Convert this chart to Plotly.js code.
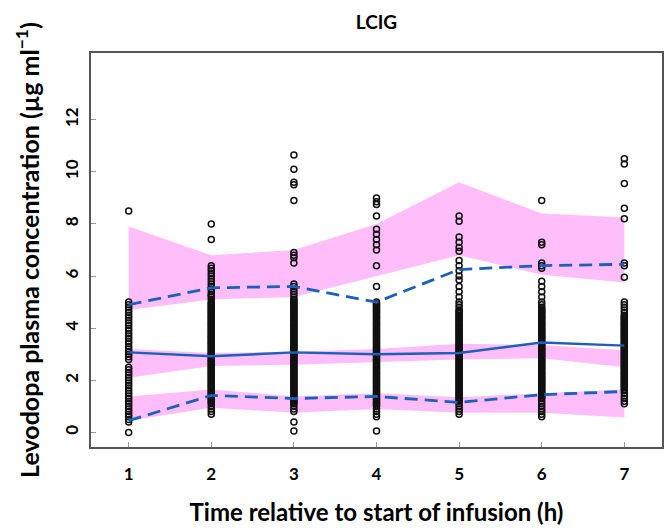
<!DOCTYPE html>
<html>
<head>
<meta charset="utf-8">
<script src="https://cdn.plot.ly/plotly-3.0.1.min.js"></script>
<style>html,body{margin:0;padding:0;background:#fff;}#chart{width:664px;height:528px;}</style>
</head>
<body>
<div id="chart"></div>
<script>
// Time points (h)
var times = [1, 2, 3, 4, 5, 6, 7];
var xTickLabels = ['1', '2', '3', '4', '5', '6', '7'];
var yTickVals = [0, 2, 4, 6, 8, 10, 12];

// Simulated prediction intervals (shaded bands)
var pi95Low  = [4.7, 5.1, 5.2, 6.0, 6.8, 6.05, 5.75];
var pi95High = [7.9, 6.8, 7.0, 8.0, 9.6, 8.4, 8.25];
var pi50Low  = [2.1, 2.55, 2.6, 2.7, 2.8, 2.85, 2.5];
var pi50High = [3.2, 3.05, 3.1, 3.2, 3.4, 3.35, 3.15];
var pi5Low   = [0.45, 0.95, 0.75, 0.9, 0.75, 0.75, 0.57];
var pi5High  = [1.38, 1.65, 1.38, 1.5, 1.35, 1.5, 1.65];

// Observed percentiles (lines)
var obsP95 = [4.9, 5.55, 5.6, 5.0, 6.25, 6.4, 6.45];
var obsP50 = [3.07, 2.92, 3.07, 3.0, 3.05, 3.45, 3.33];
var obsP5  = [0.45, 1.42, 1.3, 1.38, 1.15, 1.45, 1.57];

// Observed concentrations at each time point
var obs1 = [8.5, 5.0, 4.9, 4.8, 4.7, 4.6, 4.5, 4.4, 4.3, 4.2, 4.1, 4.0, 3.9, 3.8, 3.7, 3.6, 3.5, 3.4, 3.3, 3.2, 3.1, 3.0, 2.9, 2.8, 2.5, 2.4, 2.3, 2.2, 2.1, 2.0, 1.9, 1.8, 1.7, 1.6, 1.5, 1.4, 1.3, 1.2, 1.1, 1.0, 0.9, 0.8, 0.7, 0.6, 0.5, 0.4, 0.0];
var obs2 = [8.0, 7.4, 6.4, 6.3, 6.2, 6.1, 6.0, 5.9, 5.8, 5.7, 5.6, 5.5, 5.4, 5.3, 5.2, 5.1, 5.0, 4.9, 4.8, 4.7, 4.6, 4.5, 4.4, 4.3, 4.2, 4.1, 4.0, 3.9, 3.8, 3.7, 3.6, 3.5, 3.4, 3.3, 3.2, 3.1, 3.0, 2.9, 2.8, 2.7, 2.6, 2.5, 2.4, 2.3, 2.2, 2.1, 2.0, 1.9, 1.8, 1.7, 1.6, 1.5, 1.4, 1.3, 1.2, 1.1, 1.0, 0.9, 0.8, 0.7,
            5.25, 4.95, 4.85, 4.75, 4.65, 4.55, 4.45, 4.35, 4.25, 4.15, 4.05, 3.95, 3.85, 3.75, 3.65, 3.55, 3.45, 3.35, 3.25, 3.15, 3.05, 2.95, 2.85, 2.75, 2.65, 2.55, 2.45, 2.35, 2.25, 2.15, 2.05, 1.95, 1.85, 1.75, 1.65, 1.55, 1.45, 1.35, 1.25, 1.15];
var obs3 = [10.65, 10.1, 9.6, 9.5, 8.9, 6.9, 6.8, 6.7, 6.5, 5.7, 5.6, 5.5, 5.4, 5.3, 5.2, 5.1, 5.0, 4.9, 4.8, 4.7, 4.6, 4.5, 4.4, 4.3, 4.2, 4.1, 4.0, 3.9, 3.8, 3.7, 3.6, 3.5, 3.4, 3.3, 3.2, 3.1, 3.0, 2.9, 2.8, 2.7, 2.6, 2.5, 2.4, 2.3, 2.2, 2.1, 2.0, 1.9, 1.8, 1.7, 1.6, 1.5, 1.4, 1.3, 1.2, 1.1, 1.0, 0.9, 0.8, 0.4, 0.05,
            5.05, 4.95, 4.85, 4.75, 4.65, 4.55, 4.45, 4.35, 4.25, 4.15, 4.05, 3.95, 3.85, 3.75, 3.65, 3.55, 3.45, 3.35, 3.25, 3.15, 3.05, 2.95, 2.85, 2.75, 2.65, 2.55, 2.45, 2.35, 2.25, 2.15, 2.05, 1.95, 1.85, 1.75, 1.65, 1.55, 1.45, 1.35, 1.25, 1.15];
var obs4 = [9.0, 8.85, 8.75, 8.3, 7.8, 7.6, 7.4, 7.2, 7.0, 6.4, 5.6, 5.0, 4.9, 4.8, 4.7, 4.6, 4.5, 4.4, 4.3, 4.2, 4.1, 4.0, 3.9, 3.8, 3.7, 3.6, 3.5, 3.4, 3.3, 3.2, 3.1, 3.0, 2.9, 2.8, 2.7, 2.6, 2.5, 2.4, 2.3, 2.2, 2.1, 2.0, 1.9, 1.8, 1.7, 1.6, 1.5, 1.4, 1.3, 1.2, 1.1, 1.0, 0.9, 0.8, 0.7, 0.6, 0.05,
            4.95, 4.85, 4.75, 4.65, 4.55, 4.45, 4.35, 4.25, 4.15, 4.05, 3.95, 3.85, 3.75, 3.65, 3.55, 3.45, 3.35, 3.25, 3.15, 3.05, 2.95, 2.85, 2.75, 2.65, 2.55, 2.45, 2.35, 2.25, 2.15, 2.05, 1.95, 1.85, 1.75, 1.65, 1.55, 1.45, 1.35, 1.25, 1.15, 1.05];
var obs5 = [8.3, 8.1, 7.5, 7.3, 7.1, 6.95, 6.6, 6.4, 6.2, 6.0, 5.85, 5.6, 5.4, 5.2, 5.0, 4.9, 4.8, 4.7, 4.6, 4.5, 4.4, 4.3, 4.2, 4.1, 4.0, 3.9, 3.8, 3.7, 3.6, 3.5, 3.4, 3.3, 3.2, 3.1, 3.0, 2.9, 2.8, 2.7, 2.6, 2.5, 2.4, 2.3, 2.2, 2.1, 2.0, 1.9, 1.8, 1.7, 1.6, 1.5, 1.4, 1.3, 1.2, 1.1, 1.0, 0.9, 0.8, 0.7,
            4.65, 4.55, 4.45, 4.35, 4.25, 4.15, 4.05, 3.95, 3.85, 3.75, 3.65, 3.55, 3.45, 3.35, 3.25, 3.15, 3.05, 2.95, 2.85, 2.75, 2.65, 2.55, 2.45, 2.35, 2.25, 2.15, 2.05, 1.95, 1.85, 1.75, 1.65, 1.55, 1.45, 1.35, 1.25];
var obs6 = [8.9, 7.3, 7.2, 6.5, 6.4, 6.3, 5.8, 5.6, 5.4, 5.2, 5.0, 4.9, 4.8, 4.7, 4.6, 4.5, 4.4, 4.3, 4.2, 4.1, 4.0, 3.9, 3.8, 3.7, 3.6, 3.5, 3.4, 3.3, 3.2, 3.1, 3.0, 2.9, 2.8, 2.7, 2.6, 2.5, 2.4, 2.3, 2.2, 2.1, 2.0, 1.9, 1.8, 1.7, 1.6, 1.5, 1.4, 1.3, 1.2, 1.1, 1.0, 0.9, 0.8, 0.7, 0.6,
            4.75, 4.65, 4.55, 4.45, 4.35, 4.25, 4.15, 4.05, 3.95, 3.85, 3.75, 3.65, 3.55, 3.45, 3.35, 3.25, 3.15, 3.05, 2.95, 2.85, 2.75, 2.65, 2.55, 2.45, 2.35, 2.25, 2.15, 2.05, 1.95, 1.85, 1.75, 1.65, 1.55, 1.45, 1.35];
var obs7 = [10.5, 10.3, 9.55, 8.6, 8.2, 6.5, 6.4, 5.95, 5.0, 4.9, 4.8, 4.7, 4.6, 4.5, 4.4, 4.3, 4.2, 4.1, 4.0, 3.9, 3.8, 3.7, 3.6, 3.5, 3.4, 3.3, 3.2, 3.1, 3.0, 2.9, 2.8, 2.7, 2.6, 2.5, 2.4, 2.3, 2.2, 2.1, 2.0, 1.9, 1.8, 1.7, 1.6, 1.5, 1.4, 1.3, 1.2, 1.1,
            4.45, 4.35, 4.25, 4.15, 4.05, 3.95, 3.85, 3.75, 3.65, 3.55, 3.45, 3.35, 3.25, 3.15, 3.05, 2.95, 2.85, 2.75, 2.65, 2.55, 2.45, 2.35, 2.25, 2.15, 2.05, 1.95, 1.85, 1.75, 1.65];

var obsByTime = [obs1, obs2, obs3, obs4, obs5, obs6, obs7];

var PINK = 'rgb(255,190,250)';
var BLUE = 'rgb(28,96,190)';

function band(lo, hi) {
  var xs = times.concat(times.slice().reverse());
  var ys = lo.concat(hi.slice().reverse());
  return {x: xs, y: ys, type: 'scatter', mode: 'lines', fill: 'toself',
          fillcolor: PINK, line: {width: 0, color: PINK}, hoverinfo: 'skip', showlegend: false};
}

var obsX = [], obsY = [];
obsByTime.forEach(function (arr, i) {
  arr.forEach(function (v) { obsX.push(times[i]); obsY.push(v); });
});

var traces = [
  band(pi95Low, pi95High),
  band(pi50Low, pi50High),
  band(pi5Low, pi5High),
  {x: obsX, y: obsY, type: 'scatter', mode: 'markers', showlegend: false,
   marker: {symbol: 'circle-open', size: 6, color: '#111', line: {width: 1.5, color: '#111'}}},
  {x: times, y: obsP95, type: 'scatter', mode: 'lines', showlegend: false,
   line: {color: BLUE, width: 2.8, dash: '13px,7px'}},
  {x: times, y: obsP50, type: 'scatter', mode: 'lines', showlegend: false,
   line: {color: BLUE, width: 2.4}},
  {x: times, y: obsP5, type: 'scatter', mode: 'lines', showlegend: false,
   line: {color: BLUE, width: 2.8, dash: '13px,7px'}}
];

var FONT = 'Lato, "Open Sans", sans-serif';

var layout = {
  width: 664, height: 528,
  margin: {l: 91, r: 2, t: 53, b: 81},
  paper_bgcolor: '#fff', plot_bgcolor: '#fff',
  font: {family: FONT, color: '#000'},
  title: {text: '<b>LCIG</b>', font: {size: 19, family: FONT, color: '#000'},
          x: 0.567, xanchor: 'center', y: 0.958, yanchor: 'middle'},
  xaxis: {
    range: [0.544, 7.456], tickvals: times, ticktext: xTickLabels,
    ticks: 'inside', ticklen: 5, tickcolor: '#999', tickwidth: 1,
    showline: true, mirror: true, linecolor: '#555', linewidth: 1.6,
    showgrid: false, zeroline: false,
    tickfont: {size: 17, family: FONT, color: '#000', weight: 'bold'},
    ticklabelstandoff: 11,
    title: {text: '<b>Time relative to start of infusion (h)</b>', font: {size: 24, family: FONT, color: '#000'}, standoff: 21}
  },
  yaxis: {
    range: [-0.56, 14.56], tickvals: yTickVals, ticktext: yTickVals.map(String),
    tickangle: -90,
    ticks: 'inside', ticklen: 5, tickcolor: '#999', tickwidth: 1,
    showline: true, mirror: true, linecolor: '#555', linewidth: 1.6,
    showgrid: false, zeroline: false,
    tickfont: {size: 17, family: FONT, color: '#000', weight: 'bold'},
    ticklabelstandoff: 5,
    title: {text: '<b>Levodopa plasma concentration (µg ml<sup>−1</sup>)</b>', font: {size: 25, family: FONT, color: '#000'}, standoff: 14}
  }
};

Plotly.newPlot('chart', traces, layout, {displayModeBar: false, staticPlot: true});
</script>
</body>
</html>
